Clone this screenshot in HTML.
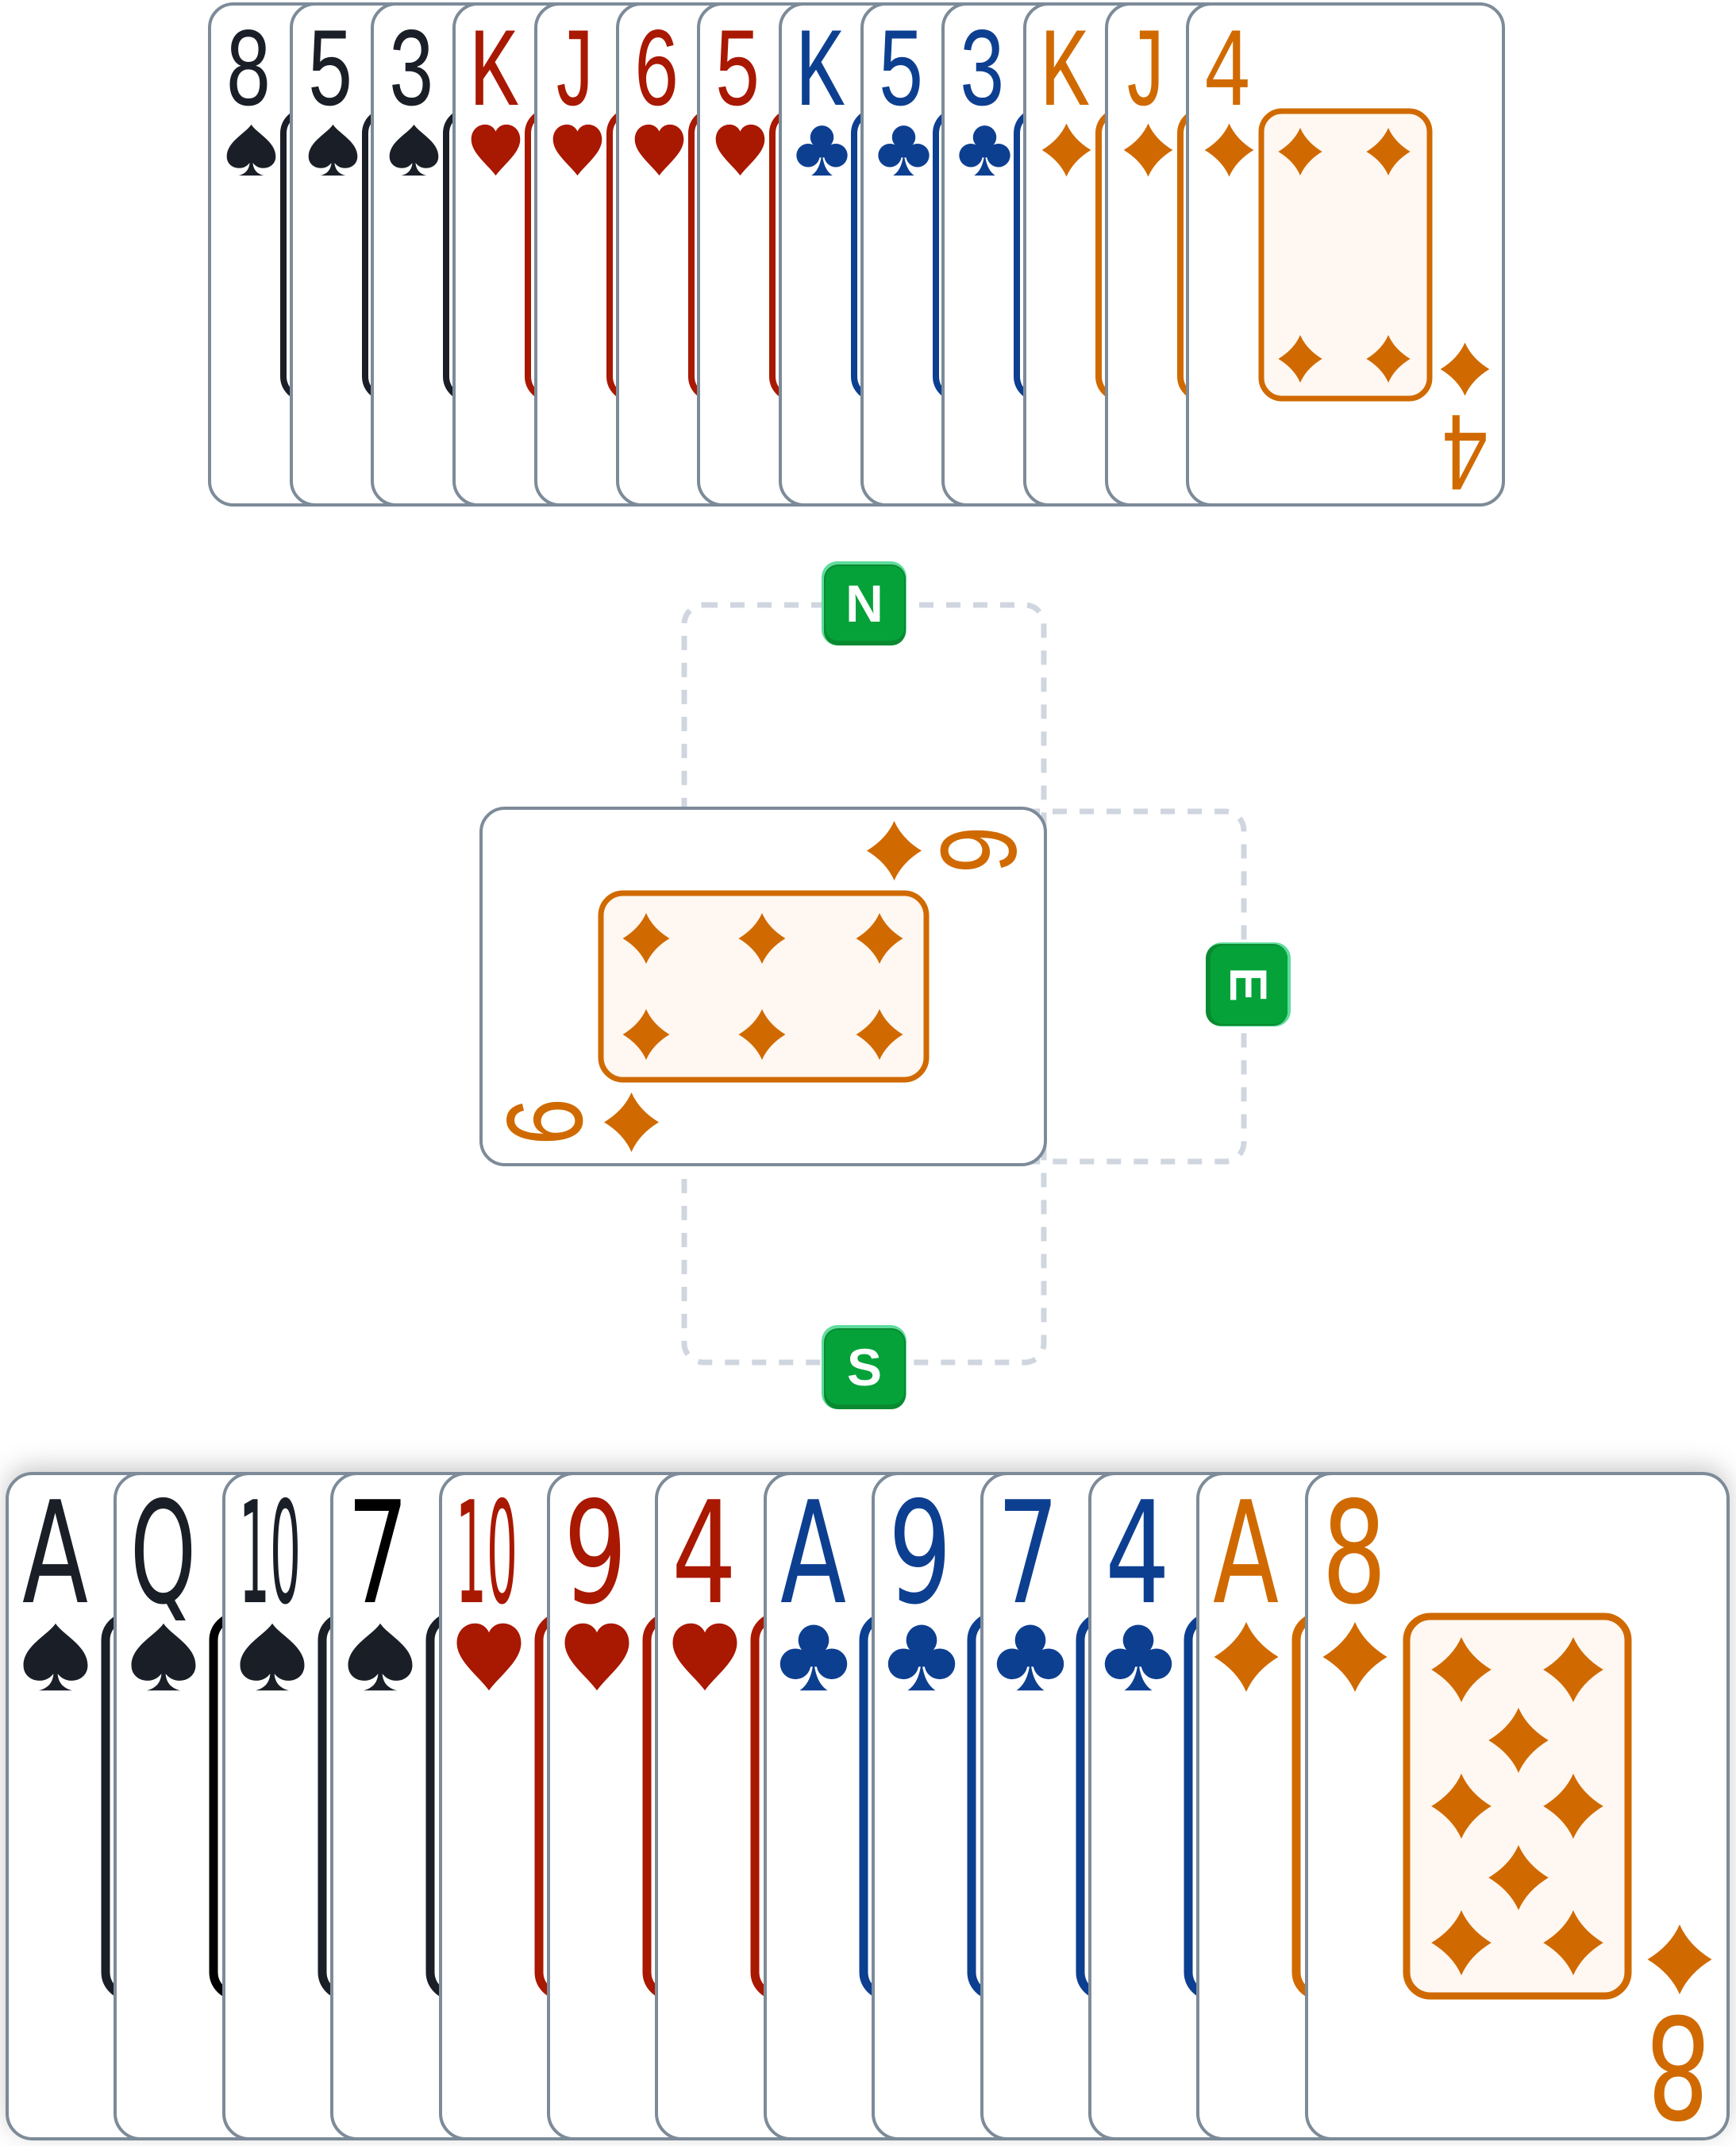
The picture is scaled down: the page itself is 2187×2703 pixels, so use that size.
<!DOCTYPE html>
<html><head><meta charset="utf-8"><style>
html,body{margin:0;padding:0;background:#fff;}
svg{display:block;}
.rt{font-family:"Liberation Mono",monospace;font-size:142px;}
.rb{font-family:"Liberation Sans Narrow","DejaVu Sans Condensed","Liberation Sans",sans-serif;font-size:178px;}
.bd{font-family:"Liberation Sans",sans-serif;font-size:66px;font-weight:bold;fill:#fff;}
</style></head><body>
<svg width="2187" height="2703" viewBox="0 0 2187 2703" xmlns="http://www.w3.org/2000/svg">
<defs>
<symbol id="D" viewBox="0 0 100 100"><path d="M50 0Q63 30 96 50Q63 70 50 100Q37 70 4 50Q37 30 50 0Z"/></symbol>
<symbol id="H" viewBox="0 0 100 100"><path d="M50 98C36 78 4 56 4 30C4 12 17 2 30 2C40 2 47 8 50 15C53 8 60 2 70 2C83 2 96 12 96 30C96 56 64 78 50 98Z"/></symbol>
<symbol id="S" viewBox="0 0 100 100"><path d="M50 2C40 18 4 34 4 62C4 76 15 84 27 84C37 84 43 79 47 74C46 88 38 95 26 98L74 98C62 95 54 88 53 74C57 79 63 84 73 84C85 84 96 76 96 62C96 34 60 18 50 2Z"/></symbol>
<symbol id="C" viewBox="0 0 100 100"><circle cx="50" cy="26" r="22"/><circle cx="24" cy="60" r="22"/><circle cx="76" cy="60" r="22"/><rect x="38" y="36" width="24" height="28"/><path d="M50 50C49 75 42 90 30 98L70 98C58 90 51 75 50 50Z"/></symbol>
<filter id="sh" x="-5%" y="-10%" width="110%" height="120%"><feDropShadow dx="0" dy="-8" stdDeviation="16" flood-color="#000" flood-opacity="0.22"/></filter>
</defs>

<!-- dashed connectors -->
<g fill="none" stroke="#d0d6df" stroke-width="7" stroke-dasharray="18 16">
<rect x="862" y="762" width="453" height="300" rx="24"/>
<rect x="1200" y="1022" width="367" height="441" rx="24"/>
<rect x="862" y="1420" width="453" height="296" rx="24"/>
</g>

<!-- TOP HAND -->
<g stroke="#7d8b99" stroke-width="4">
<g><rect x="264" y="5" width="398" height="631" rx="30" fill="#fff"/><rect x="357" y="140" width="214" height="362" rx="28" fill="none" stroke="#1a1f27" stroke-width="8"/><text x="283" y="132" class="rt" fill="#1a1f27" stroke="none" textLength="60" lengthAdjust="spacingAndGlyphs">8</text><use href="#S" x="283" y="153" width="67" height="72" fill="#1a1f27" stroke="none"/></g>
<g><rect x="367" y="5" width="398" height="631" rx="30" fill="#fff"/><rect x="460" y="140" width="214" height="362" rx="28" fill="none" stroke="#1a1f27" stroke-width="8"/><text x="386" y="132" class="rt" fill="#1a1f27" stroke="none" textLength="60" lengthAdjust="spacingAndGlyphs">5</text><use href="#S" x="386" y="153" width="67" height="72" fill="#1a1f27" stroke="none"/></g>
<g><rect x="469" y="5" width="398" height="631" rx="30" fill="#fff"/><rect x="562" y="140" width="214" height="362" rx="28" fill="none" stroke="#1a1f27" stroke-width="8"/><text x="488" y="132" class="rt" fill="#1a1f27" stroke="none" textLength="60" lengthAdjust="spacingAndGlyphs">3</text><use href="#S" x="488" y="153" width="67" height="72" fill="#1a1f27" stroke="none"/></g>
<g><rect x="572" y="5" width="398" height="631" rx="30" fill="#fff"/><rect x="665" y="140" width="214" height="362" rx="28" fill="none" stroke="#a91800" stroke-width="8"/><text x="591" y="132" class="rt" fill="#a91800" stroke="none" textLength="62" lengthAdjust="spacingAndGlyphs">K</text><use href="#H" x="591" y="153" width="67" height="72" fill="#a91800" stroke="none"/></g>
<g><rect x="675" y="5" width="398" height="631" rx="30" fill="#fff"/><rect x="768" y="140" width="214" height="362" rx="28" fill="none" stroke="#a91800" stroke-width="8"/><text x="694" y="132" class="rt" fill="#a91800" stroke="none" textLength="58" lengthAdjust="spacingAndGlyphs">J</text><use href="#H" x="694" y="153" width="67" height="72" fill="#a91800" stroke="none"/></g>
<g><rect x="778" y="5" width="398" height="631" rx="30" fill="#fff"/><rect x="871" y="140" width="214" height="362" rx="28" fill="none" stroke="#a91800" stroke-width="8"/><text x="797" y="132" class="rt" fill="#a91800" stroke="none" textLength="60" lengthAdjust="spacingAndGlyphs">6</text><use href="#H" x="797" y="153" width="67" height="72" fill="#a91800" stroke="none"/></g>
<g><rect x="880" y="5" width="398" height="631" rx="30" fill="#fff"/><rect x="973" y="140" width="214" height="362" rx="28" fill="none" stroke="#a91800" stroke-width="8"/><text x="899" y="132" class="rt" fill="#a91800" stroke="none" textLength="60" lengthAdjust="spacingAndGlyphs">5</text><use href="#H" x="899" y="153" width="67" height="72" fill="#a91800" stroke="none"/></g>
<g><rect x="983" y="5" width="398" height="631" rx="30" fill="#fff"/><rect x="1076" y="140" width="214" height="362" rx="28" fill="none" stroke="#0d3f91" stroke-width="8"/><text x="1002" y="132" class="rt" fill="#0d3f91" stroke="none" textLength="62" lengthAdjust="spacingAndGlyphs">K</text><use href="#C" x="1002" y="153" width="67" height="72" fill="#0d3f91" stroke="none"/></g>
<g><rect x="1086" y="5" width="398" height="631" rx="30" fill="#fff"/><rect x="1179" y="140" width="214" height="362" rx="28" fill="none" stroke="#0d3f91" stroke-width="8"/><text x="1105" y="132" class="rt" fill="#0d3f91" stroke="none" textLength="60" lengthAdjust="spacingAndGlyphs">5</text><use href="#C" x="1105" y="153" width="67" height="72" fill="#0d3f91" stroke="none"/></g>
<g><rect x="1188" y="5" width="398" height="631" rx="30" fill="#fff"/><rect x="1281" y="140" width="214" height="362" rx="28" fill="none" stroke="#0d3f91" stroke-width="8"/><text x="1207" y="132" class="rt" fill="#0d3f91" stroke="none" textLength="60" lengthAdjust="spacingAndGlyphs">3</text><use href="#C" x="1207" y="153" width="67" height="72" fill="#0d3f91" stroke="none"/></g>
<g><rect x="1291" y="5" width="398" height="631" rx="30" fill="#fff"/><rect x="1384" y="140" width="214" height="362" rx="28" fill="none" stroke="#d06a00" stroke-width="8"/><text x="1310" y="132" class="rt" fill="#d06a00" stroke="none" textLength="62" lengthAdjust="spacingAndGlyphs">K</text><use href="#D" x="1310" y="153" width="67" height="72" fill="#d06a00" stroke="none"/></g>
<g><rect x="1394" y="5" width="398" height="631" rx="30" fill="#fff"/><rect x="1487" y="140" width="214" height="362" rx="28" fill="none" stroke="#d06a00" stroke-width="8"/><text x="1413" y="132" class="rt" fill="#d06a00" stroke="none" textLength="58" lengthAdjust="spacingAndGlyphs">J</text><use href="#D" x="1413" y="153" width="67" height="72" fill="#d06a00" stroke="none"/></g>
<g><rect x="1496" y="5" width="398" height="631" rx="30" fill="#fff"/><rect x="1589" y="140" width="212" height="362" rx="26" fill="#fff7f1" stroke="#d06a00" stroke-width="7"/><text x="1515" y="132" class="rt" fill="#d06a00" stroke="none" textLength="62" lengthAdjust="spacingAndGlyphs">4</text><use href="#D" x="1515" y="153" width="67" height="72" fill="#d06a00" stroke="none"/>
<g fill="#d06a00" stroke="none"><use href="#D" x="1608" y="160" width="60" height="62"/><use href="#D" x="1719" y="160" width="60" height="62"/><use href="#D" x="1608" y="421" width="60" height="62"/><use href="#D" x="1719" y="421" width="60" height="62"/><use href="#D" x="1812" y="429" width="67" height="72"/>
<text x="0" y="0" class="rt" transform="translate(1877,523) rotate(180)" textLength="62" lengthAdjust="spacingAndGlyphs">4</text></g></g>
</g>

<!-- MIDDLE CARD -->
<g>
<rect x="606" y="1018" width="711" height="449" rx="30" fill="#fff" stroke="#7d8b99" stroke-width="4"/>
<rect x="757" y="1125" width="410" height="235" rx="28" fill="#fff7f1" stroke="#d06a00" stroke-width="7"/>
<g fill="#d06a00">
<use href="#D" x="782" y="1148" width="64" height="68"/><use href="#D" x="928" y="1148" width="64" height="68"/><use href="#D" x="1076" y="1148" width="64" height="68"/>
<use href="#D" x="782" y="1269" width="64" height="68"/><use href="#D" x="928" y="1269" width="64" height="68"/><use href="#D" x="1076" y="1269" width="64" height="68"/>
<use href="#D" x="1089" y="1034" width="75" height="75"/>
<use href="#D" x="758" y="1376" width="75" height="75"/>
<text x="0" y="0" class="rt" transform="translate(1186,1038) rotate(90)" textLength="64" lengthAdjust="spacingAndGlyphs">6</text>
<text x="0" y="0" class="rt" transform="translate(733,1445) rotate(-90)" textLength="64" lengthAdjust="spacingAndGlyphs">6</text>
</g>
</g>

<!-- BADGES -->
<g>
<rect x="1035" y="707" width="107" height="106" rx="20" fill="#5fdc9c"/><rect x="1038" y="711" width="103" height="102" rx="18" fill="#0a8a30"/><rect x="1040" y="713" width="99" height="94" rx="16" fill="#05a23a"/>
<text x="1089" y="783" class="bd" text-anchor="middle">N</text>
<rect x="1519" y="1187" width="107" height="106" rx="20" fill="#5fdc9c"/><rect x="1519" y="1189" width="103" height="103" rx="18" fill="#0a8a30"/><rect x="1525" y="1191" width="97" height="99" rx="16" fill="#05a23a"/>
<text x="0" y="0" class="bd" text-anchor="middle" transform="translate(1550,1240) rotate(90)">E</text>
<rect x="1035" y="1669" width="107" height="106" rx="20" fill="#5fdc9c"/><rect x="1038" y="1673" width="103" height="102" rx="18" fill="#0a8a30"/><rect x="1040" y="1675" width="99" height="94" rx="16" fill="#05a23a"/>
<text x="1089" y="1745" class="bd" text-anchor="middle">S</text>
</g>

<!-- BOTTOM HAND -->
<g stroke="#7d8b99" stroke-width="4">
<rect x="9" y="1856" width="2168" height="838" rx="30" fill="#fff" filter="url(#sh)" stroke="none"/>
<g><rect x="9" y="1856" width="531" height="838" rx="32" fill="#fff"/><rect x="133" y="2036" width="280" height="478" rx="30" fill="none" stroke="#1a1f27" stroke-width="11"/><text x="28" y="2018" class="rb" fill="#1a1f27" stroke="none" textLength="83" lengthAdjust="spacingAndGlyphs">A</text><use href="#S" x="26" y="2041" width="88" height="92" fill="#1a1f27" stroke="none"/></g>
<g><rect x="145" y="1856" width="531" height="838" rx="32" fill="#fff"/><rect x="269" y="2036" width="280" height="478" rx="30" fill="none" stroke="#000" stroke-width="11"/><text x="164" y="2018" class="rb" fill="#1a1f27" stroke="none" textLength="83" lengthAdjust="spacingAndGlyphs">Q</text><use href="#S" x="162" y="2041" width="88" height="92" fill="#1a1f27" stroke="none"/></g>
<g><rect x="282" y="1856" width="531" height="838" rx="32" fill="#fff"/><rect x="406" y="2036" width="280" height="478" rx="30" fill="none" stroke="#1a1f27" stroke-width="11"/><text x="301" y="2018" class="rb" fill="#1a1f27" stroke="none" textLength="78" lengthAdjust="spacingAndGlyphs">10</text><use href="#S" x="299" y="2041" width="88" height="92" fill="#1a1f27" stroke="none"/></g>
<g><rect x="418" y="1856" width="531" height="838" rx="32" fill="#fff"/><rect x="542" y="2036" width="280" height="478" rx="30" fill="none" stroke="#1a1f27" stroke-width="11"/><text x="437" y="2018" class="rb" fill="#000" stroke="none" textLength="78" lengthAdjust="spacingAndGlyphs">7</text><use href="#S" x="435" y="2041" width="88" height="92" fill="#1a1f27" stroke="none"/></g>
<g><rect x="555" y="1856" width="531" height="838" rx="32" fill="#fff"/><rect x="679" y="2036" width="280" height="478" rx="30" fill="none" stroke="#a91800" stroke-width="11"/><text x="574" y="2018" class="rb" fill="#a91800" stroke="none" textLength="78" lengthAdjust="spacingAndGlyphs">10</text><use href="#H" x="572" y="2041" width="88" height="92" fill="#a91800" stroke="none"/></g>
<g><rect x="691" y="1856" width="531" height="838" rx="32" fill="#fff"/><rect x="815" y="2036" width="280" height="478" rx="30" fill="none" stroke="#a91800" stroke-width="11"/><text x="710" y="2018" class="rb" fill="#a91800" stroke="none" textLength="80" lengthAdjust="spacingAndGlyphs">9</text><use href="#H" x="708" y="2041" width="88" height="92" fill="#a91800" stroke="none"/></g>
<g><rect x="827" y="1856" width="531" height="838" rx="32" fill="#fff"/><rect x="951" y="2036" width="280" height="478" rx="30" fill="none" stroke="#a91800" stroke-width="11"/><text x="846" y="2018" class="rb" fill="#a91800" stroke="none" textLength="82" lengthAdjust="spacingAndGlyphs">4</text><use href="#H" x="844" y="2041" width="88" height="92" fill="#a91800" stroke="none"/></g>
<g><rect x="964" y="1856" width="531" height="838" rx="32" fill="#fff"/><rect x="1088" y="2036" width="280" height="478" rx="30" fill="none" stroke="#0d3f91" stroke-width="11"/><text x="983" y="2018" class="rb" fill="#0d3f91" stroke="none" textLength="83" lengthAdjust="spacingAndGlyphs">A</text><use href="#C" x="981" y="2041" width="88" height="92" fill="#0d3f91" stroke="none"/></g>
<g><rect x="1100" y="1856" width="531" height="838" rx="32" fill="#fff"/><rect x="1224" y="2036" width="280" height="478" rx="30" fill="none" stroke="#0d3f91" stroke-width="11"/><text x="1119" y="2018" class="rb" fill="#0d3f91" stroke="none" textLength="80" lengthAdjust="spacingAndGlyphs">9</text><use href="#C" x="1117" y="2041" width="88" height="92" fill="#0d3f91" stroke="none"/></g>
<g><rect x="1237" y="1856" width="531" height="838" rx="32" fill="#fff"/><rect x="1361" y="2036" width="280" height="478" rx="30" fill="none" stroke="#0d3f91" stroke-width="11"/><text x="1256" y="2018" class="rb" fill="#0d3f91" stroke="none" textLength="78" lengthAdjust="spacingAndGlyphs">7</text><use href="#C" x="1254" y="2041" width="88" height="92" fill="#0d3f91" stroke="none"/></g>
<g><rect x="1373" y="1856" width="531" height="838" rx="32" fill="#fff"/><rect x="1497" y="2036" width="280" height="478" rx="30" fill="none" stroke="#0d3f91" stroke-width="11"/><text x="1392" y="2018" class="rb" fill="#0d3f91" stroke="none" textLength="82" lengthAdjust="spacingAndGlyphs">4</text><use href="#C" x="1390" y="2041" width="88" height="92" fill="#0d3f91" stroke="none"/></g>
<g><rect x="1509" y="1856" width="531" height="838" rx="32" fill="#fff"/><rect x="1633" y="2036" width="280" height="478" rx="30" fill="none" stroke="#d06a00" stroke-width="11"/><text x="1528" y="2018" class="rb" fill="#d06a00" stroke="none" textLength="83" lengthAdjust="spacingAndGlyphs">A</text><use href="#D" x="1526" y="2041" width="88" height="92" fill="#d06a00" stroke="none"/></g>
<g><rect x="1646" y="1856" width="531" height="838" rx="32" fill="#fff"/><rect x="1772" y="2036" width="279" height="478" rx="30" fill="#fff7f1" stroke="#d06a00" stroke-width="9"/><text x="1665" y="2018" class="rb" fill="#d06a00" stroke="none" textLength="82" lengthAdjust="spacingAndGlyphs">8</text><use href="#D" x="1663" y="2041" width="88" height="92" fill="#d06a00" stroke="none"/>
<g fill="#d06a00" stroke="none">
<use href="#D" x="1800" y="2061" width="82" height="84"/><use href="#D" x="1941" y="2061" width="82" height="84"/>
<use href="#D" x="1872" y="2150" width="82" height="84"/>
<use href="#D" x="1800" y="2233" width="82" height="84"/><use href="#D" x="1941" y="2233" width="82" height="84"/>
<use href="#D" x="1872" y="2323" width="82" height="84"/>
<use href="#D" x="1800" y="2405" width="82" height="84"/><use href="#D" x="1941" y="2405" width="82" height="84"/>
<use href="#D" x="2072" y="2422" width="88" height="92"/>
<text x="0" y="0" class="rb" transform="translate(2155,2540) rotate(180)" textLength="82" lengthAdjust="spacingAndGlyphs">8</text>
</g></g>
</g>
</svg>
</body></html>
